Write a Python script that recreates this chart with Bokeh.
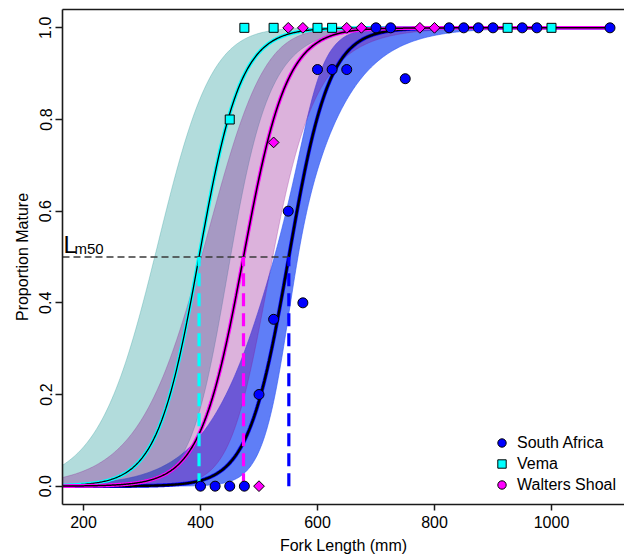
import math
import numpy as np
from bokeh.plotting import figure
from bokeh.models import (LinearAxis, FixedTicker, PrintfTickFormatter, Range1d,
                          Legend, LegendItem, Label)
from bokeh.embed import file_html
from bokeh.resources import INLINE

# ---------------- data ----------------
sa_len = [400, 425, 450, 475, 500, 525, 550, 575, 600, 625, 650, 700, 725, 750,
          825, 850, 875, 900, 950, 975, 1100]
sa_prop = [0, 0, 0, 0, 0.2, 0.364, 0.6, 0.4, 0.909, 0.909, 0.909, 1, 1, 0.889,
           1, 1, 1, 1, 1, 1, 1]
vema_len = [450, 475, 525, 600, 625, 925, 1000]
vema_prop = [0.8, 1, 1, 1, 1, 1, 1]
ws_len = [500, 525, 550, 575, 650, 675, 775, 800]
ws_prop = [0, 0.75, 1, 1, 1, 1, 1, 1]

populations = ["South Africa", "Vema", "Walters Shoal"]
lm50 = [551, 397.5, 473.5]          # length at 50 % maturity (mm)
slope = [0.029, 0.028, 0.027]        # logistic slope (per mm)
se_centre = [568, 465, 520]          # length where the CI is narrowest
se_min = [0.45, 1.5, 1.35]           # half-width of CI (logit) at centre
se_growth = [0.0134, 0.0105, 0.0118] # growth of CI half-width (logit per mm)

x_ticks = [200, 400, 600, 800, 1000]
y_ticks = [0.0, 0.2, 0.4, 0.6, 0.8, 1.0]

band_colors = ["#325AF5", "#008B8B", "#8B008B"]
band_alpha = [0.78, 0.3, 0.3]
line_colors = ["#0000FF", "#00FFFF", "#FF00FF"]
black_widths = [2.4, 1.3, 1.5]

X_START, X_END = 164.1, 1124.8
FONT = "Liberation Sans"

p = figure(width=624, height=557, x_range=Range1d(X_START, X_END),
           y_range=Range1d(-0.04, 1.04), output_backend="svg",
           toolbar_location=None, min_border_left=62, min_border_right=0,
           min_border_top=9, min_border_bottom=53)
p.xgrid.visible = False
p.ygrid.visible = False
p.outline_line_color = None
p.background_fill_color = "white"
p.border_fill_color = "white"

fl = np.linspace(X_START, 1100, 600)

def logistic(z):
    return 1.0 / (1.0 + np.exp(-z))

fits = []
for i in range(3):
    eta = slope[i] * (fl - lm50[i])
    hw = np.sqrt(se_min[i] ** 2 + se_growth[i] ** 2 * (fl - se_centre[i]) ** 2)
    lo = logistic(eta - hw)
    hi = logistic(eta + hw)
    fits.append(logistic(eta))
    p.varea(x=fl, y1=lo, y2=hi, fill_color=band_colors[i], fill_alpha=band_alpha[i])
    p.line(fl, lo, line_color=band_colors[i], line_alpha=band_alpha[i] * 0.8, line_width=1)
    p.line(fl, hi, line_color=band_colors[i], line_alpha=band_alpha[i] * 0.8, line_width=1)

for i in range(3):
    p.line(fl, fits[i], line_color=line_colors[i], line_width=3.8)
    p.line(fl, fits[i], line_color="black", line_width=black_widths[i])

# Lm50 guide lines
p.line([X_START, lm50[0]], [0.5, 0.5], line_color="#3a3a3a", line_width=1.5,
       line_dash="7 4")
for i in [1, 2, 0]:
    p.segment(x0=[lm50[i]], y0=[0], x1=[lm50[i]], y1=[0.5],
              line_color=line_colors[i], line_width=3.2, line_dash="13 7")

# points
p.scatter(sa_len, sa_prop, marker="circle", size=10, fill_color="#0000FF",
          line_color="black", line_width=1)
p.scatter(vema_len, vema_prop, marker="square", size=9, fill_color="#00FFFF",
          line_color="black", line_width=1)
p.scatter(ws_len, ws_prop, marker="square", angle=math.pi / 4, size=7.6,
          fill_color="#FF00FF", line_color="black", line_width=1)

# legend-only glyphs (not visible in the plot area)
nan = [float("nan")]
lg_sa = p.scatter(nan, nan, marker="circle", fill_color="#0000FF", line_color="black")
lg_ve = p.scatter(nan, nan, marker="square", fill_color="#00FFFF", line_color="black")
lg_ws = p.scatter(nan, nan, marker="circle", fill_color="#FF00FF", line_color="black")
legend = Legend(items=[LegendItem(label=populations[0], renderers=[lg_sa]),
                       LegendItem(label=populations[1], renderers=[lg_ve]),
                       LegendItem(label=populations[2], renderers=[lg_ws])],
                location=(429, 9), border_line_color=None, background_fill_alpha=0,
                padding=0, margin=0, spacing=0, glyph_width=21, glyph_height=21,
                label_height=20, label_standoff=5, label_text_font=FONT,
                label_text_font_size="16px", label_text_color="black")
p.add_layout(legend)

# Lm50 label
p.add_layout(Label(x=165.8, y=0.527, text="L", text_font=FONT, text_font_size="24px",
                   text_color="black", text_baseline="middle"))
p.add_layout(Label(x=184.6, y=0.519, text="m50", text_font=FONT, text_font_size="15px",
                   text_color="black", text_baseline="middle"))

# axes
for ax in (p.xaxis[0], p.yaxis[0]):
    ax.axis_line_width = 1.6
    ax.axis_line_color = "#1a1a1a"
    ax.major_tick_line_width = 1.5
    ax.major_tick_line_color = "#1a1a1a"
    ax.major_tick_in = 0
    ax.minor_tick_line_color = None
    ax.major_label_text_font = FONT
    ax.major_label_text_font_size = "16px"
    ax.major_label_text_color = "black"
    ax.axis_label_text_font = FONT
    ax.axis_label_text_font_size = "16px"
    ax.axis_label_text_font_style = "normal"
    ax.axis_label_text_color = "black"

p.xaxis.ticker = FixedTicker(ticks=x_ticks)
p.xaxis.axis_label = "Fork Length (mm)"
p.xaxis.major_tick_out = 6
p.xaxis.major_label_standoff = 5
p.xaxis.axis_label_standoff = 6

p.yaxis.ticker = FixedTicker(ticks=y_ticks)
p.yaxis.formatter = PrintfTickFormatter(format="%.1f")
p.yaxis.axis_label = "Proportion Mature"
p.yaxis.major_tick_out = 7
p.yaxis.major_label_orientation = "vertical"
p.yaxis.major_label_standoff = 4
p.yaxis.axis_label_standoff = 6

top = LinearAxis(ticker=FixedTicker(ticks=[]), major_label_text_font_size="0px",
                 major_tick_out=0, major_tick_in=0, minor_tick_out=0, minor_tick_in=0,
                 major_label_standoff=0, axis_line_width=1.6, axis_line_color="#1a1a1a")
p.add_layout(top, "above")

open("out.html", "w").write(file_html(p, INLINE))
